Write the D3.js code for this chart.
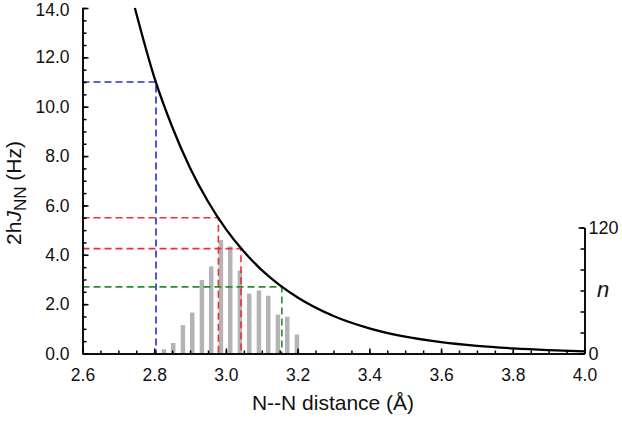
<!DOCTYPE html>
<html><head><meta charset="utf-8">
<script src="https://cdn.jsdelivr.net/npm/d3@7/dist/d3.min.js"></script>
<style>
body{margin:0;background:#fff;}
svg{display:block;font-family:"Liberation Sans",Arial,sans-serif;}
</style></head>
<body><svg id="c" width="622" height="421"></svg>
<script>
// ---- data ----
const xMajorTicks = [2.6, 2.8, 3.0, 3.2, 3.4, 3.6, 3.8, 4.0];
const yMajorTicks = [0, 2, 4, 6, 8, 10, 12, 14];
const nMajorTicks = [0, 120];
const curveX = [2.746, 2.80, 2.85, 2.90, 2.95, 3.00, 3.05, 3.10, 3.15, 3.20, 3.30, 3.40, 3.50, 3.60, 3.70, 3.80, 3.90, 4.00];
const curveJ = [14.0, 11.2, 9.19, 7.52, 6.16, 5.04, 4.13, 3.38, 2.77, 2.27, 1.52, 1.02, 0.68, 0.46, 0.31, 0.21, 0.14, 0.09];
const histX = [2.827, 2.853, 2.880, 2.906, 2.933, 2.959, 2.986, 3.012, 3.039, 3.065, 3.092, 3.118, 3.145, 3.171, 3.198];
const histN = [4, 10, 27, 39, 70, 83, 108, 102, 79, 57, 60, 55, 37, 35, 18];
const guideX = [2.805, 2.979, 3.042, 3.156];
const guideJ = [11.0, 5.5, 4.25, 2.7];
const guideColor = ["#2a2ad6", "#e8323a", "#e8323a", "#2a8c2a"];

// ---- layout ----
const svg = d3.select("#c");
const x = d3.scaleLinear().domain([2.6, 4.0]).range([82.5, 584.5]);
const y = d3.scaleLinear().domain([0, 14]).range([353.5, 8]);
const yn = d3.scaleLinear().domain([0, 120]).range([353.5, 227.5]);
const barW = 0.0125;

// bars
svg.append("g").selectAll("rect").data(histX).join("rect")
  .attr("x", (d) => x(d - barW / 2))
  .attr("width", x(2.6 + barW) - x(2.6))
  .attr("y", (d, i) => yn(histN[i]))
  .attr("height", (d, i) => yn(0) - yn(histN[i]))
  .attr("fill", "#b4b4b4");

// guides
const g = svg.append("g").attr("fill", "none").attr("stroke-width", 1.6).attr("stroke-dasharray", "7,4");
guideX.forEach((gx, i) => {
  g.append("path")
    .attr("d", d3.line()([[x(2.6), y(guideJ[i])], [x(gx), y(guideJ[i])], [x(gx), y(0)]]))
    .attr("stroke", guideColor[i]);
});

// curve
svg.append("path")
  .datum(curveX.map((d, i) => [d, curveJ[i]]))
  .attr("fill", "none").attr("stroke", "#000").attr("stroke-width", 2.3)
  .attr("d", d3.line().x(d => x(d[0])).y(d => y(d[1])).curve(d3.curveMonotoneX));

// axes
const fmt = d3.format(".1f");
const axB = svg.append("g").attr("transform", `translate(0,${y(0)})`);
axB.call(d3.axisBottom(x).tickValues(d3.range(2.6, 4.001, 0.05)).tickSizeInner(-3).tickSizeOuter(0).tickFormat(""));
axB.call(g2 => g2.append("g").call(d3.axisBottom(x).tickValues(xMajorTicks).tickSizeInner(-5).tickSizeOuter(0).tickFormat(fmt)));
axB.selectAll("text").attr("font-size", 17.5).attr("fill", "#111").attr("y", 15).attr("dy", "0.71em");

const axL = svg.append("g").attr("transform", `translate(${x(2.6)},0)`);
axL.call(d3.axisLeft(y).tickValues(d3.range(0, 14.001, 0.5)).tickSizeInner(-4).tickSizeOuter(0).tickFormat(""));
axL.call(g2 => g2.append("g").call(d3.axisLeft(y).tickValues(yMajorTicks).tickSizeInner(-6).tickSizeOuter(0).tickFormat(fmt)));
axL.selectAll("text").attr("font-size", 17.5).attr("fill", "#111").attr("x", -13)
  .attr("dy", d => d === 14 ? "0.42em" : "0.32em");

const axR = svg.append("g").attr("transform", `translate(${x(4.0)},0)`);
axR.call(d3.axisRight(yn).tickValues(d3.range(0, 120.001, 20)).tickSizeInner(-4).tickSizeOuter(0).tickFormat(""));
axR.call(g2 => g2.append("g").call(d3.axisRight(yn).tickValues(nMajorTicks).tickSizeInner(-6).tickSizeOuter(0).tickFormat(d3.format("d"))));
axR.selectAll("text").attr("font-size", 18).attr("fill", "#111").attr("x", 4);

svg.selectAll(".domain, .tick line").attr("stroke", "#000").attr("stroke-width", 1.5);

// titles
svg.append("text").attr("x", 333).attr("y", 410).attr("text-anchor", "middle")
  .attr("font-size", 21).attr("fill", "#111").text("N--N distance (\u00C5)");

const yt = svg.append("text").attr("transform", "translate(21,193) rotate(-90)")
  .attr("text-anchor", "middle").attr("font-size", 21).attr("fill", "#111");
yt.append("tspan").text("2h");
yt.append("tspan").attr("font-style", "italic").text("J");
yt.append("tspan").attr("font-size", 17).attr("dy", 5).text("NN");
yt.append("tspan").attr("dy", -5).text(" (Hz)");

svg.append("text").attr("x", 603).attr("y", 297).attr("text-anchor", "middle")
  .attr("font-size", 22).attr("font-style", "italic").attr("fill", "#111").text("n");
</script></body></html>
